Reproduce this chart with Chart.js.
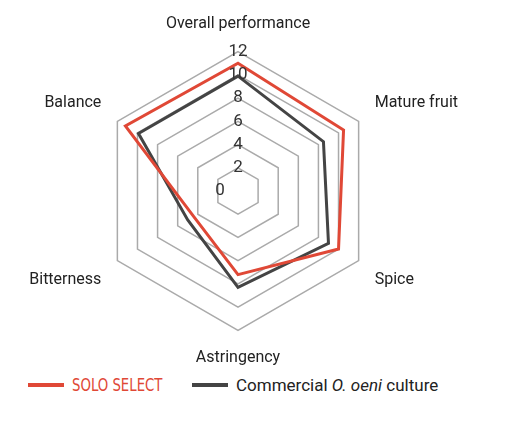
<!DOCTYPE html>
<html><head><meta charset="utf-8">
<script src="https://cdn.jsdelivr.net/npm/chart.js@4/dist/chart.umd.min.js"></script>
<style>
body{margin:0;background:#fff;font-family:Roboto,sans-serif;}
#wrap{position:relative;width:519px;height:370px;}
#legend{position:absolute;top:374px;left:28px;font-size:17px;color:#222;display:flex;align-items:center;}
.sw{display:inline-block;width:36px;height:4px;margin-right:8px;}
</style></head><body>
<div id="wrap"><canvas id="c" width="519" height="370"></canvas></div>
<div id="legend">
<span class="sw" style="background:#e04836"></span><span style="color:#e04836;font-family:'DejaVu Sans Condensed','Liberation Sans Narrow',sans-serif;font-size:18px;transform:scaleX(0.82);transform-origin:left;display:inline-block;width:120px">SOLO SELECT</span>
<span class="sw" style="background:#444;margin-left:0px"></span><span>Commercial <i>O. oeni</i> culture</span>
</div>
<script>
const categories=["Overall performance","Mature fruit","Spice","Astringency","Bitterness","Balance"];
const soloSelect=[11.0,10.5,10.0,7.2,4.4,11.2];
const commercial=[9.9,8.5,9.0,8.3,5.0,9.9];
const zeroLabel={id:'zero',afterDraw(ch){const s=ch.scales.r;const c=ch.ctx;c.save();c.font='17px Roboto';c.fillStyle='#333';c.textAlign='center';c.textBaseline='middle';c.fillText('0',s.xCenter-18,s.yCenter);c.restore();}};
new Chart(document.getElementById('c'),{type:'radar',
data:{labels:categories,datasets:[
{label:'SOLO SELECT',data:soloSelect,borderColor:'#e04836',borderWidth:3,fill:false,pointRadius:0,tension:0},
{label:'Commercial',data:commercial,borderColor:'#444',borderWidth:3,fill:false,pointRadius:0,tension:0}]},
options:{responsive:false,animation:false,layout:{padding:{top:14,left:10,right:40,bottom:2}},
plugins:{legend:{display:false},tooltip:{enabled:false}},
scales:{r:{min:0,max:12,ticks:{stepSize:2,backdropColor:'rgba(0,0,0,0)',showLabelBackdrop:false,color:'#333',font:{size:17,family:'Roboto'},z:1},
grid:{color:'#aaa',lineWidth:1.5},angleLines:{display:false},
pointLabels:{color:'#222',font:{size:16,family:'Roboto'},padding:8}}}},
plugins:[zeroLabel]});
</script></body></html>
